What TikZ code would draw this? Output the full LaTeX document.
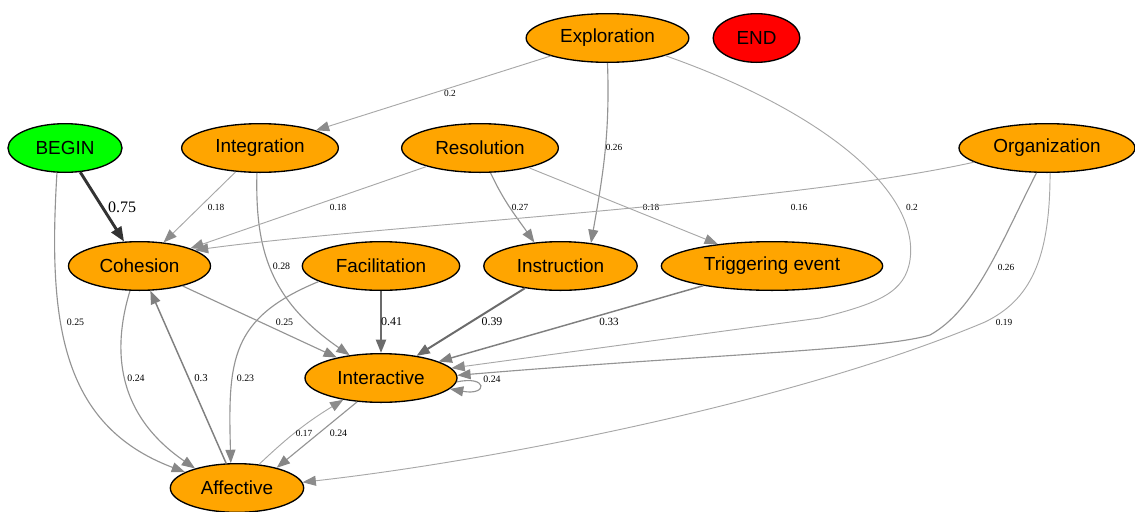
\documentclass[tikz,border=0pt]{standalone}
\usepackage{fontspec}
\setmainfont{Liberation Serif}
\newfontfamily\statefont{Liberation Sans}
\usepackage{xcolor}
\usetikzlibrary{arrows.meta,shapes.geometric}

\definecolor{stateorange}{HTML}{FFA500}
\definecolor{begingreen}{HTML}{00FF00}
\definecolor{endred}{HTML}{FF0000}

\begin{document}
\begin{tikzpicture}[x=0.75pt,y=-0.75pt,>={Triangle[length=10pt,width=7.5pt]},
  st/.style={draw,ellipse,line width=1pt,fill=stateorange,inner sep=0pt,
    minimum height=36.5pt,font=\statefont\fontsize{14.2}{17}\selectfont},
  lbl/.style={font=\fontsize{#1}{#1}\selectfont,inner sep=0pt},
  lbl/.default=7,
  edgelo/.style={-{Triangle[length=10pt,width=7.5pt,color=black!45]},draw=black!34,line width=0.7pt},
  edgemd/.style={-{Triangle[length=10pt,width=7.5pt,color=black!47]},draw=black!42,line width=0.85pt},
  edgehi/.style={->,draw=black!50,line width=1.1pt},
  edgeho/.style={->,draw=black!58,line width=1.5pt},
  edgemax/.style={-{Triangle[length=11pt,width=8.5pt]},draw=black!80,line width=2.2pt}]
\useasboundingbox (0,0) rectangle (1135,511);

% states
\node[st,minimum width=122pt] (expl) at (607.5,38) {Exploration};
\node[st,minimum width=65pt,fill=endred] (end) at (756.5,38) {END};
\node[st,minimum width=85.5pt,fill=begingreen] (begin) at (65,148) {BEGIN};
\node[st,minimum width=117.5pt] (integ) at (260,148) {Integration};
\node[st,minimum width=117.5pt] (res) at (480,148) {Resolution};
\node[st,minimum width=132pt] (org) at (1047,148) {Organization};
\node[st,minimum width=106.5pt] (coh) at (139.5,266) {Cohesion};
\node[st,minimum width=118pt] (fac) at (381,266) {Facilitation};
\node[st,minimum width=115pt] (instr) at (560.5,266) {Instruction};
\node[st,minimum width=166pt] (trig) at (772,266) {Triggering event};
\node[st,minimum width=114pt] (inter) at (381,378) {Interactive};
\node[st,minimum width=100pt] (aff) at (237,488) {Affective};

% transitions
\draw[edgelo] (expl) -- (integ) node[lbl] (w1) at (450,93) {0.2};
\draw[edgemd] (expl.south) to[out=-88,in=80] (instr.37) node[lbl] (w2) at (614,147) {0.26};
\draw[edgelo] (expl.-17) .. controls (820,110) and (920,190) .. (910,260)
  .. controls (905,292) and (880,303) .. (820,318) -- (inter.8) node[lbl] (w3) at (912,207) {0.2};
\draw[edgemax] (begin) -- (coh) node[lbl=12] (w4) at (122,207) {0.75};
\draw[edgemd] (begin.-108) .. controls (48,320) and (60,425) .. (aff.163) node[lbl=7.4] (w5) at (75.5,322) {0.25};
\draw[edgelo] (integ) -- (coh) node[lbl] (w6) at (216,207) {0.18};
\draw[edgemd] (integ.-97) .. controls (255,250) and (270,300) .. (inter.144) node[lbl=7.4] (w7) at (281.5,266) {0.28};
\draw[edgelo] (res) -- (coh) node[lbl] (w8) at (338,207) {0.18};
\draw[edgemd] (res.-67) to[out=-65,in=125] (instr.138) node[lbl] (w9) at (520,207) {0.27};
\draw[edgelo] (res) -- (trig) node[lbl] (w10) at (651,207) {0.18};
\draw[edgelo] (org.-169) .. controls (780,205) and (380,225) .. (coh.16) node[lbl] (w11) at (799,207) {0.16};
\draw[edgemd] (org.-113) .. controls (1000,245) and (975,310) .. (930,335)
  .. controls (880,350) and (700,355) .. (inter.2) node[lbl] (w12) at (1006,267) {0.26};
\draw[edgelo] (org.-83) .. controls (1050,260) and (1030,300) .. (985,322)
  .. controls (800,400) and (500,460) .. (aff.5) node[lbl] (w13) at (1004,322) {0.19};
\draw[edgemd] (coh) -- (inter) node[lbl=7.4] (w14) at (284.5,322) {0.25};
\draw[edgemd] (coh.-111) .. controls (115,340) and (110,410) .. (aff.155) node[lbl=7.4] (w15) at (136,378) {0.24};
\draw[edgehi] (aff) -- (coh) node[lbl=8] (w16) at (201,378) {0.3};
\draw[edgeho] (fac) -- (inter) node[lbl=9] (w17) at (391.5,322) {0.41};
\draw[edgemd] (fac.-166) .. controls (230,318) and (228,360) .. (aff.104) node[lbl=7.4] (w18) at (245.5,378) {0.23};
\draw[edgeho] (instr) -- (inter) node[lbl=8.9] (w19) at (492,322) {0.39};
\draw[edgehi] (trig) -- (inter) node[lbl=8.3] (w20) at (609,322) {0.33};
\draw[edgemd] (inter.-3) .. controls (488,375) and (488,396) .. (inter.-9) node[lbl=7.4] (w21) at (492,379) {0.24};
\draw[edgelo] (aff.47) to[bend left=6] (inter.-150) node[lbl] (w22) at (304,433) {0.17};
\draw[edgemd] (inter.-135) -- (aff.27) node[lbl=7.4] (w23) at (338.5,433) {0.24};
\end{tikzpicture}
\end{document}
